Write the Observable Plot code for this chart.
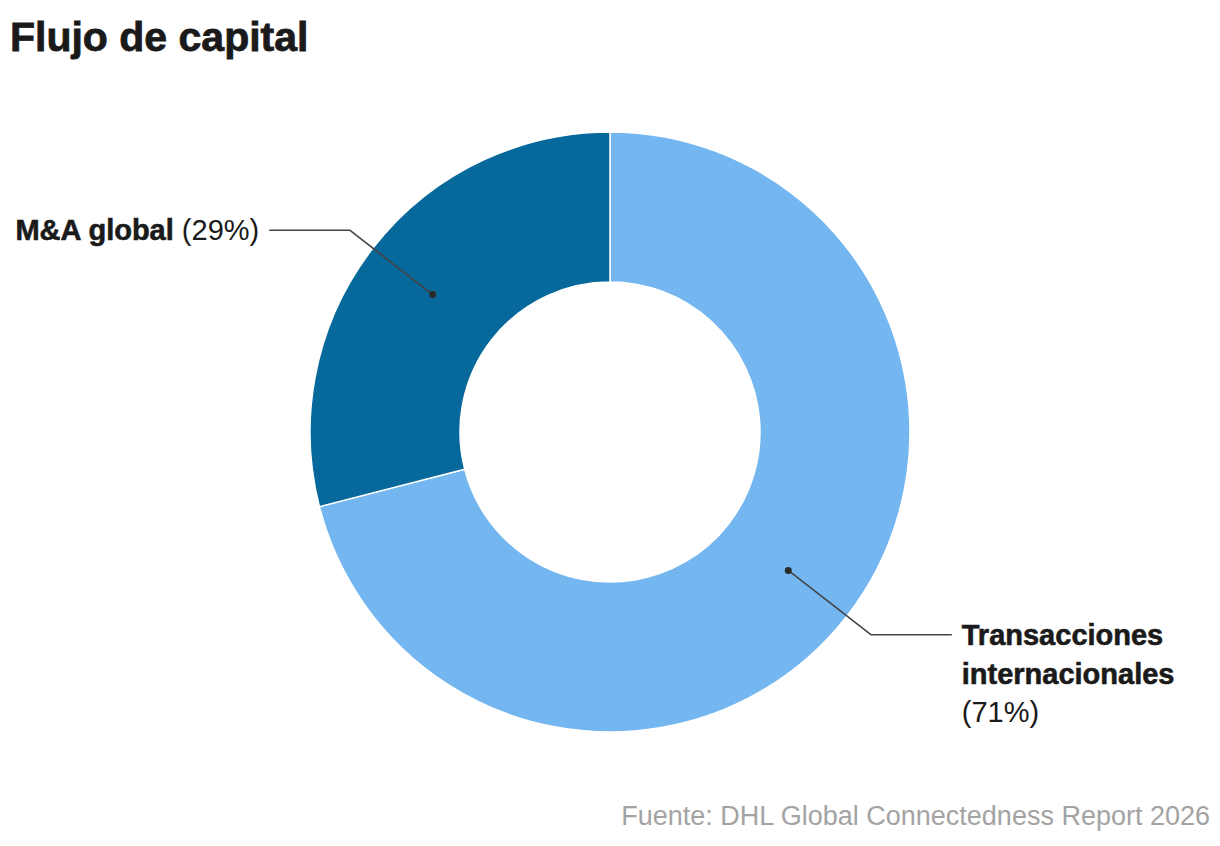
<!DOCTYPE html>
<html>
<head>
<meta charset="utf-8">
<script src="https://cdn.jsdelivr.net/npm/d3@7"></script>
<script src="https://cdn.jsdelivr.net/npm/@observablehq/plot@0.6"></script>
<style>
  html, body { margin: 0; padding: 0; background: #fff; }
  body { width: 1220px; height: 846px; overflow: hidden; font-family: "Liberation Sans", Arial, sans-serif; }
  #title { height: 80px; box-sizing: border-box; padding: 17px 0 0 10px; font-size: 41px; line-height: 41px; font-weight: bold; color: #1a1a1a; -webkit-text-stroke: 0.8px #1a1a1a; }
  #chart { height: 700px; }
  #source { height: 66px; box-sizing: border-box; padding: 23px 10px 0 0; text-align: right; font-size: 27px; line-height: 27px; color: #a3a3a3; }
</style>
</head>
<body>
<div id="title">Flujo de capital</div>
<div id="chart"></div>
<div id="source">Fuente: DHL Global Connectedness Report 2026</div>
<script>
// ---- data ----
const categories = ["Transacciones internacionales", "M&A global"];
const shares = [71, 29];
const colors = ["#73b6f0", "#06689b"];
const labelNames = [["Transacciones", "internacionales"], ["M&A global"]];
const labelValues = ["(71%)", "(29%)"];

// ---- geometry (chart units = px around the donut centre) ----
const innerR = 150, outerR = 300, elbowR = 330, tail = 80;

const data = categories.map((c, i) => ({category: c, value: shares[i], color: colors[i], names: labelNames[i], pct: labelValues[i]}));
const arcs = d3.pie().sort(null).value(d => d.value)(data);
arcs.forEach(a => {
  const mid = (a.startAngle + a.endAngle) / 2;
  a.mid = mid;
  a.side = Math.sin(mid) >= 0 ? 1 : -1;
  const rm = (innerR + outerR) / 2;
  a.dot = {x: rm * Math.sin(mid), y: -rm * Math.cos(mid)};
  a.elbow = {x: elbowR * Math.sin(mid), y: -elbowR * Math.cos(mid)};
  a.end = {x: a.elbow.x + a.side * tail, y: a.elbow.y};
});

const leaderPts = arcs.flatMap(a => [a.dot, a.elbow, a.end].map(p => ({...p, category: a.data.category})));
const dotPts = arcs.map(a => ({...a.dot, category: a.data.category}));

function donutMark(index, scales) {
  const cx = scales.x(0), cy = scales.y(0);
  const k = scales.x(1) - scales.x(0);
  const g = d3.create("svg:g").attr("transform", `translate(${cx},${cy})`);
  const arcGen = d3.arc().innerRadius(innerR * k).outerRadius(outerR * k);
  g.selectAll("path").data(arcs).join("path")
    .attr("d", arcGen)
    .attr("fill", d => d.data.color)
    .attr("stroke", "#fff")
    .attr("stroke-width", 1.5);
  return g.node();
}

function labelMark(index, scales) {
  const g = d3.create("svg:g")
    .attr("font-family", '"Liberation Sans", Arial, sans-serif')
    .attr("font-size", 29)
    .attr("fill", "#1a1a1a");
  const bold = sel => sel.attr("font-weight", "bold").attr("stroke", "#1a1a1a").attr("stroke-width", 0.6);
  arcs.forEach(a => {
    if (a.side < 0) {
      const t = g.append("text")
        .attr("x", scales.x(a.end.x - 10))
        .attr("y", scales.y(a.end.y + 10))
        .attr("text-anchor", "end");
      bold(t.append("tspan")).text(a.data.names.join(" "));
      t.append("tspan").text(" " + a.data.pct);
    } else {
      const x = scales.x(a.end.x + 11);
      const y0 = scales.y(a.end.y + 11);
      const t = g.append("text").attr("text-anchor", "start");
      a.data.names.forEach((n, i) => {
        bold(t.append("tspan").attr("x", x).attr("y", y0 + i * 38.5)).text(n);
      });
      t.append("tspan").attr("x", x).attr("y", y0 + a.data.names.length * 38.5).text(a.data.pct);
    }
  });
  return g.node();
}

const plot = Plot.plot({
  width: 1220,
  height: 700,
  margin: 0,
  x: {domain: [-610, 610], range: [0, 1220], axis: null},
  y: {domain: [-352, 348], range: [0, 700], axis: null},
  marks: [
    donutMark,
    Plot.line(leaderPts, {x: "x", y: "y", z: "category", stroke: "#444", strokeWidth: 1.6}),
    Plot.dot(dotPts, {x: "x", y: "y", r: 3.5, fill: "#2a2a2a", stroke: "none"}),
    labelMark
  ]
});
document.getElementById("chart").appendChild(plot);
</script>
</body>
</html>
